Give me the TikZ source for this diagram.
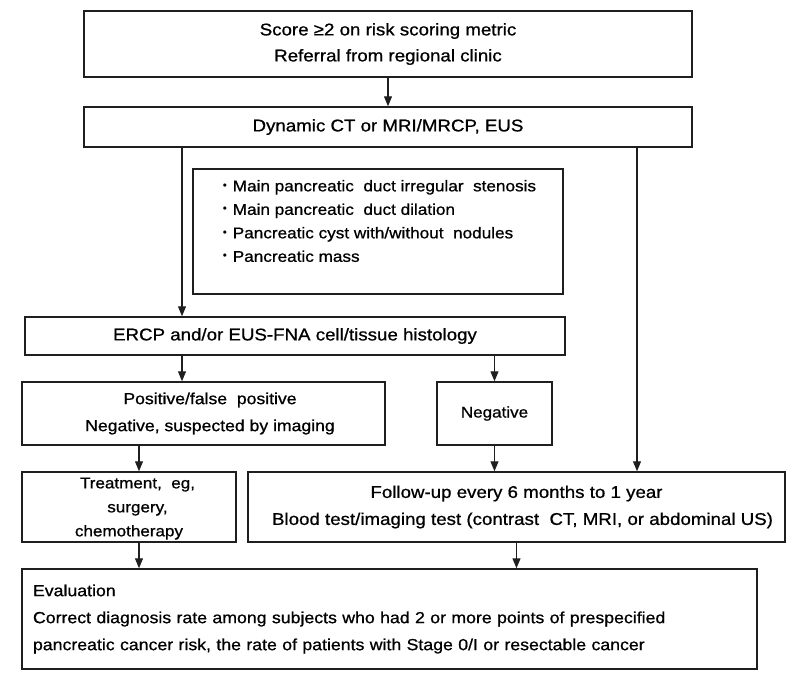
\documentclass[tikz,border=0pt]{standalone}
\usepackage{fontspec}
\setmainfont[FakeStretch=1.1, FakeBold=0.8]{Liberation Sans}
\newfontfamily\cjk{Noto Sans CJK JP}
\usetikzlibrary{arrows.meta}
\begin{document}
\begin{tikzpicture}[x=1pt,y=-1pt,
  box/.style={draw=black!88, line width=1.5pt, rectangle, inner sep=0pt, align=center, font=\fontsize{17}{26}\selectfont},
  arr/.style={draw=black!88, line width=1.2pt, -{Triangle[length=10pt,width=8pt]}},
]
\useasboundingbox[fill=white] (0,0) rectangle (800,680);
\coordinate (xl) at (182,0);
\coordinate (xr) at (637,0);
\coordinate (xt) at (139,0);
\node[box, minimum width=608pt, minimum height=66pt] (top) at (388,44) {Score ≥2 on risk scoring metric\\Referral from regional clinic};
\node[box, minimum width=608pt, minimum height=40pt] (dyn) at (388,127) {Dynamic CT or MRI/MRCP, EUS};
\node[box, minimum width=370pt, minimum height=125pt] (bul) at (378,231.5) {};
\node[anchor=west, align=left, inner sep=0pt, font=\fontsize{15.6}{23.5}\selectfont] (bultxt) at (217,221) {{\cjk ・}Main pancreatic\ \ duct irregular\ \ stenosis\\{\cjk ・}Main pancreatic\ \ duct dilation\\{\cjk ・}Pancreatic cyst with/without\ \ nodules\\{\cjk ・}Pancreatic mass};
\node[box, minimum width=540pt, minimum height=38pt] (ercp) at (295,336) {ERCP and/or EUS-FNA cell/tissue histology};
\node[box, minimum width=363pt, minimum height=63pt, font=\fontsize{16}{27}\selectfont] (pos) at (203.5,413.5) {\hspace*{13pt}Positive/false\ \ positive\\\hspace*{13pt}Negative, suspected by imaging};
\node[box, minimum width=115pt, minimum height=63pt, font=\fontsize{15.5}{26}\selectfont] (neg) at (494.5,413.5) {Negative};
\node[box, minimum width=214pt, minimum height=70pt, font=\fontsize{15.5}{24}\selectfont, text depth=0pt] (treat) at (129,507) {\hspace*{17pt}Treatment,\ \ eg,\\\hspace*{17pt}surgery,\\chemotherapy\rule[-3.5pt]{0pt}{1pt}};
\node[box, minimum width=537pt, minimum height=70pt, font=\fontsize{17}{27}\selectfont] (follow) at (516.5,507) {Follow-up every 6 months to 1 year\\\hspace*{12pt}Blood test/imaging test (contrast\ \ CT, MRI, or abdominal US)};
\node[box, minimum width=735pt, minimum height=100pt, text width=713pt, align=left, font=\fontsize{16.1}{27}\selectfont] (eval) at (389.5,619) {Evaluation\\Correct diagnosis rate among subjects who had 2 or more points of prespecified\\pancreatic cancer risk, the rate of patients with Stage 0/I or resectable cancer};
\draw[arr] (top.south) -- (dyn.north);
\draw[arr] (dyn.south -| xl) -- (ercp.north -| xl);
\draw[arr] (dyn.south -| xr) -- (follow.north -| xr);
\draw[arr] (ercp.south -| xl) -- (pos.north -| xl);
\draw[arr] (ercp.south -| neg) -- (neg.north);
\draw[arr] (pos.south -| xt) -- (treat.north -| xt);
\draw[arr] (neg.south) -- (follow.north -| neg);
\draw[arr] (treat.south -| xt) -- (eval.north -| xt);
\draw[arr] (follow.south) -- (eval.north -| follow);
\end{tikzpicture}
\end{document}
